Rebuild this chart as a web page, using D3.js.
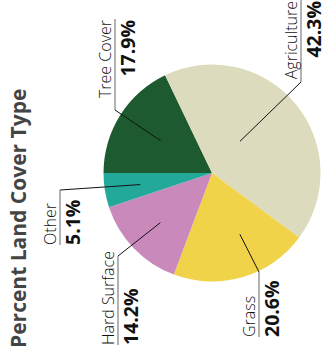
<!DOCTYPE html>
<meta charset="utf-8">
<style>
body { margin: 0; background: #fff; }
.chart text { font-family: "Open Sans", sans-serif; }
.title { font-weight: 700; font-size: 21px; fill: #444; }
.name { font-weight: 300; font-size: 16px; fill: #111; }
.pct { font-weight: 700; font-size: 19.5px; fill: #111; }
.leader { stroke: #111; stroke-width: 1; fill: none; }
.underline { stroke: #666; stroke-width: 1; }
</style>
<script src="https://cdn.jsdelivr.net/npm/d3@7"></script>
<svg class="chart" width="326" height="360"></svg>
<script>
// data
var categories = ["Tree Cover", "Agriculture", "Grass", "Hard Surface", "Other"];
var percents = [17.9, 42.3, 20.6, 14.2, 5.1];

// where each callout sits (drawn in the un-rotated frame)
var labelLayout = [
    { r: 0.56, da: 0,  elbow: [250, 115], end: 341, side: "right" },
    { r: 0.39, da: -9, elbow: [278, 301], end: 360, side: "right" },
    { r: 0.62, da: -8, elbow: [88, 259],  end: 23,  side: "left" },
    { r: 0.66, da: 0,  elbow: [104, 118], end: 15,  side: "left" },
    { r: 0.67, da: 0,  elbow: [170, 60],  end: 115, side: "left" }
];

var color = d3.scaleOrdinal()
    .domain(categories)
    .range(["#1e5a2f", "#dcdbbe", "#f0d348", "#c98abb", "#23a99a"]);

var cx = 187, cy = 212, R = 108.5;

var svg = d3.select(".chart");
// whole chart is turned a quarter turn counter-clockwise
var g = svg.append("g").attr("transform", "translate(0,360) rotate(-90)");

g.append("text")
    .attr("class", "title")
    .attr("x", 12)
    .attr("y", 26)
    .text("Percent Land Cover Type");

var pie = d3.pie().sort(null).value(function(d) { return d; });
var arcs = pie(percents);
var arc = d3.arc().innerRadius(0).outerRadius(R);

var pieG = g.append("g").attr("transform", "translate(" + cx + "," + cy + ")");
pieG.selectAll("path")
    .data(arcs)
    .enter().append("path")
    .attr("d", arc)
    .attr("fill", function(d, i) { return color(categories[i]); });

arcs.forEach(function(d, i) {
    var L = labelLayout[i];
    var a = (d.startAngle + d.endAngle) / 2 + L.da * Math.PI / 180;
    var px = cx + Math.sin(a) * R * L.r;
    var py = cy - Math.cos(a) * R * L.r;

    g.append("line").attr("class", "leader")
        .attr("x1", px).attr("y1", py)
        .attr("x2", L.elbow[0]).attr("y2", L.elbow[1]);
    g.append("line").attr("class", "underline")
        .attr("x1", L.elbow[0]).attr("y1", L.elbow[1])
        .attr("x2", L.end).attr("y2", L.elbow[1]);

    var anchor = L.side === "right" ? "end" : "start";
    var tx = L.side === "right" ? L.end - 1 : L.end;
    g.append("text").attr("class", "name")
        .attr("x", tx).attr("y", L.elbow[1] - 4)
        .attr("text-anchor", anchor)
        .text(categories[i]);
    g.append("text").attr("class", "pct")
        .attr("x", tx).attr("y", L.elbow[1] + 20)
        .attr("text-anchor", anchor)
        .text(percents[i].toFixed(1) + "%");
});
</script>
